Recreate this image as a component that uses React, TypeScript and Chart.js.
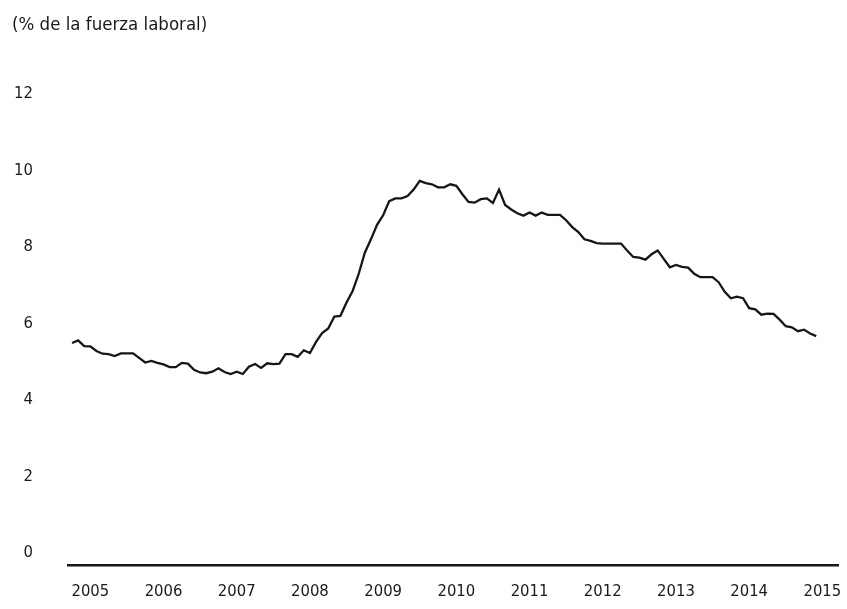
import React, { useEffect, useRef } from "react";
import { Chart, registerables } from "chart.js";

Chart.register(...registerables);

const titleText = "(% de la fuerza laboral)";
const yearLabels = ["2005", "2006", "2007", "2008", "2009", "2010", "2011", "2012", "2013", "2014", "2015"];
const yTickValues = [0, 2, 4, 6, 8, 10, 12];
// Monthly values, first month = October 2004
const startYear = 2004.75;
const unemployment = [
  5.49, 5.56, 5.41, 5.40, 5.28, 5.21, 5.20, 5.15, 5.22, 5.22,
  5.22, 5.10, 4.98, 5.02, 4.97, 4.93, 4.86, 4.86, 4.97, 4.95,
  4.79, 4.72, 4.70, 4.74, 4.83, 4.73, 4.68, 4.74, 4.68, 4.87,
  4.94, 4.84, 4.96, 4.94, 4.95, 5.20, 5.20, 5.13, 5.30, 5.23,
  5.52, 5.75, 5.87, 6.18, 6.20, 6.55, 6.85, 7.30, 7.85, 8.20,
  8.58, 8.83, 9.20, 9.27, 9.27, 9.33, 9.50, 9.73, 9.67, 9.64,
  9.56, 9.56, 9.64, 9.60, 9.38, 9.18, 9.16, 9.25, 9.27, 9.15,
  9.50, 9.10, 8.98, 8.88, 8.82, 8.90, 8.82, 8.90, 8.84, 8.84,
  8.84, 8.70, 8.52, 8.39, 8.20, 8.16, 8.10, 8.09, 8.09, 8.09,
  8.09, 7.91, 7.74, 7.72, 7.67, 7.81, 7.91, 7.69, 7.47, 7.53,
  7.48, 7.46, 7.30, 7.21, 7.21, 7.21, 7.08, 6.83, 6.66, 6.70,
  6.66, 6.40, 6.37, 6.23, 6.26, 6.25, 6.10, 5.93, 5.90, 5.80,
  5.84, 5.74, 5.67,
];

const FONT = "'DejaVu Sans Condensed', 'Liberation Sans Narrow', sans-serif";
const TEXT_COLOR = "#1a1a1a";

export default function App() {
  const canvasRef = useRef<HTMLCanvasElement | null>(null);

  useEffect(() => {
    document.body.style.margin = "0";
    const canvas = canvasRef.current;
    if (!canvas) return;

    const titlePlugin = {
      id: "topTitle",
      afterDraw(chart: any) {
        const ctx = chart.ctx;
        ctx.save();
        ctx.font = `18.5px ${FONT}`;
        ctx.fillStyle = TEXT_COLOR;
        ctx.textAlign = "left";
        ctx.textBaseline = "middle";
        ctx.fillText(titleText, 12, 25);
        ctx.restore();
      },
    };

    const points = unemployment.map((v, i) => ({ x: startYear + i / 12, y: v }));

    const chart = new Chart(canvas, {
      type: "line",
      data: {
        datasets: [
          {
            data: points,
            borderColor: "#161616",
            borderWidth: 2.3,
            pointRadius: 0,
            tension: 0,
            fill: false,
          },
        ],
      },
      options: {
        animation: false,
        responsive: false,
        maintainAspectRatio: false,
        layout: { padding: { top: 94, right: 9, bottom: 0, left: 0 } },
        plugins: {
          legend: { display: false },
          tooltip: { enabled: false },
          title: { display: false },
        },
        scales: {
          x: {
            type: "linear",
            min: 2004.695,
            max: 2015.214,
            grid: { display: false, drawTicks: false },
            border: { display: true, color: "#161616", width: 2.5 },
            afterBuildTicks: (scale: any) => {
              scale.ticks = yearLabels.map((y) => ({ value: Number(y) }));
            },
            afterFit: (scale: any) => {
              scale.height = 44;
              scale.paddingLeft = 0;
              scale.paddingRight = 0;
            },
            ticks: {
              autoSkip: false,
              maxRotation: 0,
              padding: 17,
              color: TEXT_COLOR,
              font: { family: FONT, size: 16.5 },
              callback: (value: any) => String(value),
            },
          },
          y: {
            type: "linear",
            min: -0.314,
            max: 12,
            grid: { display: false, drawTicks: false },
            border: { display: false },
            afterBuildTicks: (scale: any) => {
              scale.ticks = yTickValues.map((v) => ({ value: v }));
            },
            afterFit: (scale: any) => {
              scale.width = 68;
              scale.paddingTop = 0;
              scale.paddingBottom = 0;
            },
            ticks: {
              padding: 35,
              color: TEXT_COLOR,
              font: { family: FONT, size: 16.5 },
              callback: (value: any) => String(value),
            },
          },
        },
      },
      plugins: [titlePlugin],
    });

    return () => chart.destroy();
  }, []);

  return (
    <div style={{ width: 847, height: 609 }}>
      <canvas ref={canvasRef} width={847} height={609} style={{ display: "block" }} />
    </div>
  );
}
